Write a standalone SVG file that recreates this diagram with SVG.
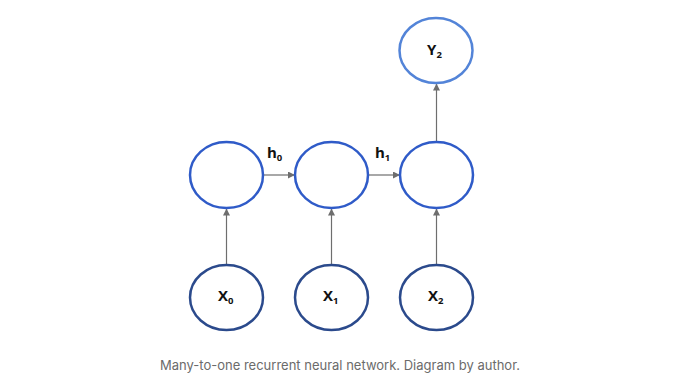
<svg xmlns="http://www.w3.org/2000/svg" width="680" height="376" viewBox="0 0 680 376">
  <style>
    .hid { fill: #ffffff; stroke: #2f5bc8; stroke-width: 2.5; }
    .inp { fill: #ffffff; stroke: #2b4a8c; stroke-width: 2.5; }
    .out { fill: #ffffff; stroke: #5384d8; stroke-width: 2.5; }
    .lbl { font-family: "Open Sans", "Liberation Sans", sans-serif; font-weight: 700; font-size: 15px; fill: #111111; }
    .sub { font-size: 9.5px; }
    .edge { stroke: #6e6e6e; stroke-width: 1.2; fill: none; marker-end: url(#arrow); }
    .cap { font-family: "Inter", "Liberation Sans", sans-serif; font-size: 13px; fill: #6b6b6b; }
  </style>
  <defs>
    <marker id="arrow" viewBox="0 0 10 10" refX="10" refY="5" markerWidth="7" markerHeight="7" markerUnits="userSpaceOnUse" orient="auto">
      <path d="M0,0 L10,5 L0,10 z" fill="#6e6e6e"/>
    </marker>
  </defs>
  <rect width="680" height="376" fill="#ffffff"/>

  <!-- connectors -->
  <g id="edges">
    <line class="edge" x1="263" y1="175" x2="295" y2="175"/>
    <line class="edge" x1="368" y1="175" x2="400" y2="175"/>
    <line class="edge" x1="226.5" y1="265" x2="226.5" y2="208.5"/>
    <line class="edge" x1="331.5" y1="265" x2="331.5" y2="208.5"/>
    <line class="edge" x1="436.5" y1="265" x2="436.5" y2="208.5"/>
    <line class="edge" x1="436.5" y1="141.5" x2="436.5" y2="83.5"/>
    <text class="lbl" x="267" y="158">h<tspan class="sub" dy="3">0</tspan></text>
    <text class="lbl" x="375" y="158">h<tspan class="sub" dy="3">1</tspan></text>
  </g>

  <!-- hidden states -->
  <g id="h0"><ellipse class="hid" cx="226.5" cy="175" rx="36.5" ry="33"/></g>
  <g id="h1"><ellipse class="hid" cx="331.5" cy="175" rx="36.5" ry="33"/></g>
  <g id="h2"><ellipse class="hid" cx="436.5" cy="175" rx="36.5" ry="33"/></g>

  <!-- output -->
  <g id="y2">
    <ellipse class="out" cx="436" cy="50.5" rx="36.5" ry="32.5"/>
    <text class="lbl" x="427" y="55">Y<tspan class="sub" dy="3">2</tspan></text>
  </g>

  <!-- inputs -->
  <g id="x0">
    <ellipse class="inp" cx="226.5" cy="297.5" rx="36.5" ry="32.5"/>
    <text class="lbl" x="218" y="301">X<tspan class="sub" dy="3">0</tspan></text>
  </g>
  <g id="x1">
    <ellipse class="inp" cx="331.5" cy="297.5" rx="36.5" ry="32.5"/>
    <text class="lbl" x="323" y="301">X<tspan class="sub" dy="3">1</tspan></text>
  </g>
  <g id="x2">
    <ellipse class="inp" cx="436.5" cy="297.5" rx="36.5" ry="32.5"/>
    <text class="lbl" x="428" y="301">X<tspan class="sub" dy="3">2</tspan></text>
  </g>

  <text class="cap" x="340" y="370" text-anchor="middle">Many-to-one recurrent neural network. Diagram by author.</text>
</svg>
